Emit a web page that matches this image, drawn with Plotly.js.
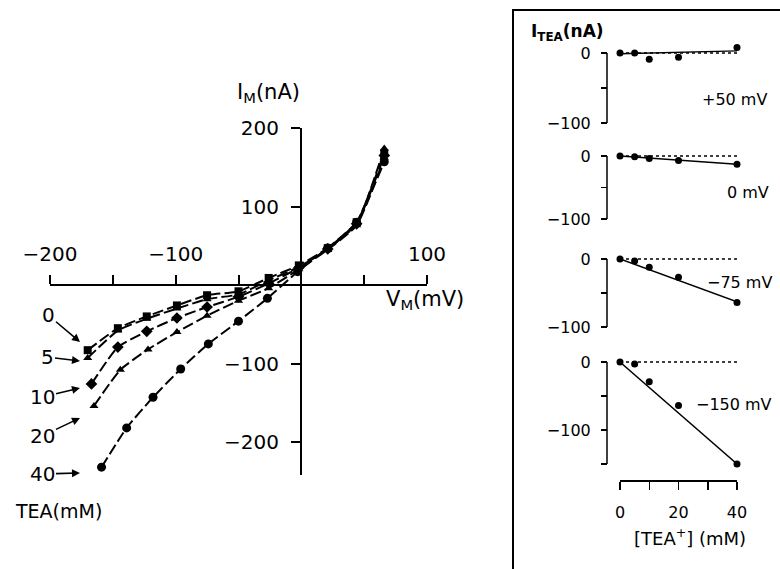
<!DOCTYPE html>
<html><head><meta charset="utf-8">
<script src="https://cdn.plot.ly/plotly-3.0.1.min.js"></script>
<style>html,body{margin:0;padding:0;background:#fff}#chart{width:780px;height:569px}</style>
</head><body><div id="chart"></div>
<script>
const W = 780, H = 569;
const fx = p => p / W, fy = p => (H - p) / H;

// ---- Left panel: I-V curves at several TEA concentrations ----
const teaLabels = ['0', '5', '10', '20', '40'];
const v_0  = [-170, -146, -123, -99, -75, -50, -26, -2, 21, 44, 66];
const i_0  = [-83, -55, -40, -26, -13, -8, 9, 25, 47, 80, 168];
const v_5  = [-170, -146, -123, -99, -75, -50, -26, -2, 21, 44, 66];
const i_5  = [-93, -58, -43, -30, -18, -12, 6, 23, 46, 78, 174];
const v_10 = [-167, -146, -123, -99, -75, -50, -26, -2, 21, 44, 66];
const i_10 = [-126, -79, -59, -42, -28, -15, 2, 22, 46, 78, 165];
const v_20 = [-165, -144, -122, -99, -75, -50, -26, -2, 21, 44, 66];
const i_20 = [-154, -108, -82, -60, -39, -20, -4, 20, 45, 76, 162];
const v_40 = [-159, -139, -118, -96, -74, -50, -27, -3, 21, 44, 66];
const i_40 = [-232, -182, -143, -107, -75, -46, -17, 17, 47, 80, 157];
const leftSymbols = ['square', 'triangle-up', 'diamond', 'triangle-up', 'circle'];
const leftSizes = [8, 8, 9, 8, 9];

// ---- Right panels: TEA-sensitive current vs [TEA] ----
const teaConc = [0, 5, 10, 20, 40];
const panelLabels = ['+50 mV', '0 mV', '\u221275 mV', '\u2212150 mV'];
const iTea_p50  = [0, 0, -9, -6, 8];
const iTea_0    = [0, -1, -4, -7, -13];
const iTea_m75  = [0, -3, -12, -27, -64];
const iTea_m150 = [0, -3, -29, -64, -150];
const fitX = [0, 40];
const fit_p50 = [-1, 3];
const fit_0 = [0, -13];
const fit_m75 = [0, -63];
const fit_m150 = [0, -150];

const leftV = [v_0, v_5, v_10, v_20, v_40];
const leftI = [i_0, i_5, i_10, i_20, i_40];
const rightI = [iTea_p50, iTea_0, iTea_m75, iTea_m150];
const rightFit = [fit_p50, fit_0, fit_m75, fit_m150];

const traces = [];
for (let k = 0; k < 5; k++) {
  traces.push({
    x: leftV[k], y: leftI[k], xaxis: 'x', yaxis: 'y', type: 'scatter', mode: 'lines+markers',
    name: teaLabels[k], cliponaxis: false,
    line: {color: '#000', width: 2, dash: '11px,4px', shape: 'spline', smoothing: 0.5},
    marker: {symbol: leftSymbols[k], size: leftSizes[k], color: '#000'}
  });
}
const yNames = ['y2', 'y3', 'y4', 'y5'];
for (let k = 0; k < 4; k++) {
  traces.push({
    x: fitX, y: rightFit[k], xaxis: 'x2', yaxis: yNames[k], type: 'scatter', mode: 'lines',
    line: {color: '#000', width: 1.4}, cliponaxis: false
  });
  traces.push({
    x: teaConc, y: rightI[k], xaxis: 'x2', yaxis: yNames[k], type: 'scatter', mode: 'markers',
    marker: {color: '#000', size: 7, symbol: 'circle'}, cliponaxis: false
  });
}

const tickFontL = {family: 'DejaVu Sans', size: 20, color: '#000'};
const tickFontR = {family: 'DejaVu Sans', size: 16, color: '#000'};

// right panel vertical geometry: [zero px, -100 px, min value]
const panelGeo = [[53, 123, -100], [156, 219, -100], [259, 327, -100], [362, 430, -150]];

const layout = {
  width: W, height: H, margin: {l: 0, r: 0, t: 0, b: 0},
  paper_bgcolor: '#fff', plot_bgcolor: 'rgba(0,0,0,0)', showlegend: false,
  xaxis: {
    domain: [fx(50), fx(427)], range: [-200, 100], anchor: 'free', position: fy(285), side: 'top',
    showline: true, linecolor: '#000', linewidth: 2, ticks: 'outside', ticklen: 9, tickwidth: 2, tickcolor: '#000',
    tickvals: [-200, -100, 100], ticktext: ['\u2212200', '\u2212100', '100'],
    minor: {tickvals: [-150, -50, 50], ticks: 'outside', ticklen: 9, tickwidth: 2, tickcolor: '#000', showgrid: false},
    tickfont: tickFontL, ticklabelstandoff: 6, showgrid: false, zeroline: false
  },
  yaxis: {
    domain: [fy(475), fy(128)], range: [-242, 200], anchor: 'free', position: fx(301),
    showline: true, linecolor: '#000', linewidth: 2, ticks: 'outside', ticklen: 9, tickwidth: 2, tickcolor: '#000',
    tickvals: [-200, -100, 100, 200], ticktext: ['\u2212200', '\u2212100', '100', '200'],
    tickfont: tickFontL, ticklabelstandoff: 8, showgrid: false, zeroline: false
  },
  xaxis2: {
    domain: [fx(620), fx(737)], range: [0, 40], anchor: 'free', position: fy(480),
    showline: true, linecolor: '#000', linewidth: 1.5, ticks: 'outside', ticklen: 8, tickwidth: 1.5, tickcolor: '#000',
    tickvals: [0, 20, 40], ticktext: ['0', '20', '40'],
    minor: {tickvals: [10, 30], ticks: 'outside', ticklen: 8, tickwidth: 1.5, tickcolor: '#000', showgrid: false},
    tickfont: tickFontR, ticklabelstandoff: 9, showgrid: false, zeroline: false
  },
  shapes: [
    {type: 'rect', xref: 'paper', yref: 'paper', x0: fx(513), x1: fx(800), y0: fy(600), y1: fy(10),
     line: {color: '#000', width: 2}}
  ],
  annotations: []
};

for (let k = 0; k < 4; k++) {
  const [z, h, mn] = panelGeo[k];
  const pxPerUnit = (h - z) / 100;
  const top = z - 15 * pxPerUnit;
  const bottom = z - mn * pxPerUnit;
  const ax = 'yaxis' + (k + 2);
  const minorVals = mn === -150 ? [-150, -50] : [-50];
  layout[ax] = {
    domain: [fy(bottom), fy(top)], range: [mn, 15], anchor: 'free', position: fx(607),
    showline: false, ticks: 'outside', ticklen: 6, tickwidth: 1.5, tickcolor: '#000',
    tickvals: [-100, 0], ticktext: ['\u2212100', '0'], tickfont: tickFontR, ticklabelstandoff: 7,
    minor: {tickvals: minorVals, ticks: 'outside', ticklen: 6, tickwidth: 1.5, tickcolor: '#000', showgrid: false},
    showgrid: false, zeroline: false
  };
  const yr = 'y' + (k + 2);
  layout.shapes.push({type: 'line', xref: 'paper', yref: yr, x0: fx(607), x1: fx(607), y0: mn, y1: 0,
    line: {color: '#000', width: 1.5}});
  layout.shapes.push({type: 'line', xref: 'x2', yref: yr, x0: 0, x1: 40, y0: 0, y1: 0,
    line: {color: '#000', width: 1.5, dash: 'dot'}});
  const labPos = [[734, 100], [748, 192], [739, 282], [734, 404]][k];
  layout.annotations.push({xref: 'paper', yref: 'paper', x: fx(labPos[0]), y: fy(labPos[1]),
    text: panelLabels[k], showarrow: false, font: {family: 'DejaVu Sans', size: 16, color: '#000'},
    xanchor: 'center', yanchor: 'middle'});
}

// axis titles
layout.annotations.push({xref: 'paper', yref: 'paper', x: fx(268), y: fy(93), text: 'I<sub>M</sub>(nA)',
  showarrow: false, font: {family: 'DejaVu Sans', size: 21, color: '#000'}, xanchor: 'center', yanchor: 'middle'});
layout.annotations.push({xref: 'paper', yref: 'paper', x: fx(425), y: fy(300), text: 'V<sub>M</sub>(mV)',
  showarrow: false, font: {family: 'DejaVu Sans', size: 21, color: '#000'}, xanchor: 'center', yanchor: 'middle'});
layout.annotations.push({xref: 'paper', yref: 'paper', x: fx(567), y: fy(32), text: '<b>I<sub>TEA</sub>(nA)</b>',
  showarrow: false, font: {family: 'DejaVu Sans', size: 17, color: '#000'}, xanchor: 'center', yanchor: 'middle'});
layout.annotations.push({xref: 'paper', yref: 'paper', x: fx(690), y: fy(537), text: '[TEA<sup>+</sup>] (mM)',
  showarrow: false, font: {family: 'DejaVu Sans', size: 18, color: '#000'}, xanchor: 'center', yanchor: 'middle'});
layout.annotations.push({xref: 'paper', yref: 'paper', x: fx(59), y: fy(511), text: 'TEA(mM)',
  showarrow: false, font: {family: 'DejaVu Sans', size: 19, color: '#000'}, xanchor: 'center', yanchor: 'middle'});

// concentration labels with arrows: [text centre px, arrow head px]
const arrowGeo = [[48, 315, 80, 342], [47, 357, 80, 361], [42, 397, 80, 388], [42, 436, 80, 418], [42, 474, 80, 473]];
for (let k = 0; k < 5; k++) {
  const [tx, ty, hx, hy] = arrowGeo[k];
  layout.annotations.push({xref: 'paper', yref: 'paper', x: fx(hx), y: fy(hy), ax: tx - hx, ay: ty - hy,
    text: teaLabels[k], showarrow: true, arrowhead: 2, arrowsize: 1, arrowwidth: 1.6, arrowcolor: '#000',
    font: {family: 'DejaVu Sans', size: 20, color: '#000'}, standoff: 0});
}

Plotly.newPlot('chart', traces, layout, {staticPlot: true});
</script></body></html>
